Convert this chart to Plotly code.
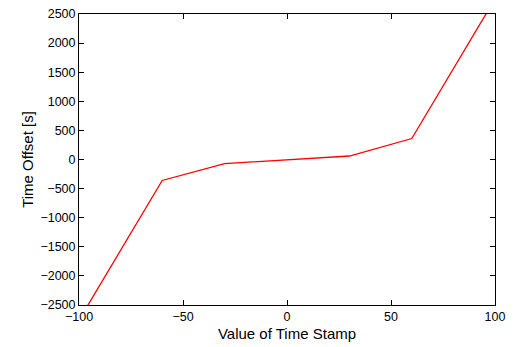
import plotly.graph_objects as go

x_vals = [-100, -60, -30, 0, 30, 60, 100]
y_vals = [-2760, -360, -70, 0, 60, 360, 2760]

x_ticks = [-100, -50, 0, 50, 100]
y_ticks = [-2500, -2000, -1500, -1000, -500, 0, 500, 1000, 1500, 2000, 2500]

fig = go.Figure()
fig.add_trace(go.Scatter(x=x_vals, y=y_vals, mode="lines",
                         line=dict(color="red", width=1.3), showlegend=False))

axis_common = dict(showgrid=False, zeroline=False, showline=True, mirror="ticks",
                   linecolor="black", linewidth=1, ticks="inside", ticklen=5,
                   tickcolor="black", tickfont=dict(family="Liberation Sans, Arial", size=12.5, color="black"))

fig.update_layout(
    width=517, height=347,
    margin=dict(l=79, r=22, t=7, b=41),
    paper_bgcolor="white", plot_bgcolor="white",
    font=dict(family="Liberation Sans, Arial", size=12.5, color="black"),
    xaxis=dict(range=[-100, 100], tickvals=x_ticks,
               title=dict(text="Value of Time Stamp", standoff=5), **axis_common),
    yaxis=dict(range=[-2500, 2500], tickvals=y_ticks,
               title=dict(text="Time Offset [s]", standoff=3), **axis_common),
)

fig.write_html("out.html")
